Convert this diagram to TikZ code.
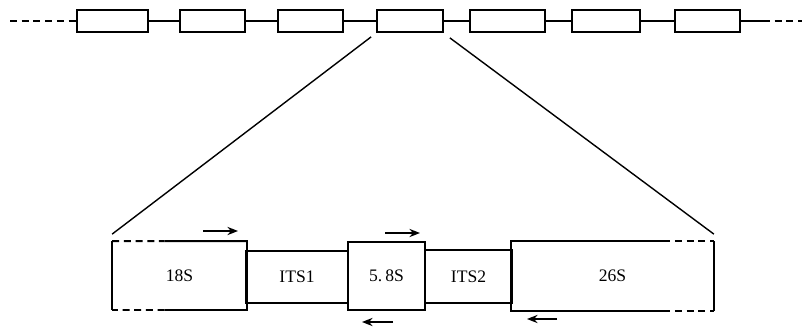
\documentclass[tikz,border=0pt]{standalone}
\usepackage{fontspec}
\setmainfont{Liberation Serif}
\usetikzlibrary{calc, arrows.meta}

\begin{document}
\begin{tikzpicture}[x=0.03cm, y=-0.03cm, line width=1.5pt,
    rep/.style={draw, minimum height=0.66cm, inner sep=0pt},
    seg/.style={inner sep=0pt, font=\fontsize{15}{17}\selectfont},
    dashseg/.style={dash pattern=on 6pt off 4pt},
    primer/.style={-{Stealth[length=9pt, width=7pt]}, line width=1.5pt},
  ]
    \useasboundingbox (0,0) rectangle (802,331);

    % tandem repeats
    \foreach \i/\a/\b in {1/77/148, 2/180/245, 3/278/343, 4/377/443, 5/470/545, 6/572/640, 7/675/740}
      \node[rep, minimum width={(\b-\a)*0.03cm}] (r\i) at ({(\a+\b)/2}, 21) {};
    \foreach \i [evaluate=\i as \j using int(\i+1)] in {1,...,6}
      \draw (r\i.east) -- (r\j.west);
    \coordinate (lend) at (10, 21);
    \coordinate (rmid) at (763, 21);
    \coordinate (rend) at (802, 21);
    \draw[dashseg] (lend) -- (r1.west);
    \draw (r7.east) -- (rmid);
    \draw[dashseg] (rmid) -- (rend);

    % one repeat unit
    \node[seg, minimum width={133*0.03cm}, minimum height={67*0.03cm}] (s18) at (179.5, 275.5) {18S};
    \node[seg, draw, minimum width={102*0.03cm}, minimum height={52*0.03cm}] (its1) at (297, 277) {ITS1};
    \node[seg, draw, minimum width={77*0.03cm}, minimum height={68*0.03cm}] (s58) at (386.5, 276) {5.\,8S};
    \node[seg, draw, minimum width={87*0.03cm}, minimum height={53*0.03cm}] (its2) at (468.5, 276.5) {ITS2};
    \node[seg, minimum width={201*0.03cm}, minimum height={68*0.03cm}] (s26) at (612.5, 276) {26S};

    \coordinate (a1) at ($(s18.north west)!0.39!(s18.north east)$);
    \coordinate (a2) at ($(s18.south west)!0.39!(s18.south east)$);
    \draw[dashseg] (s18.north west) -- (a1);
    \draw (a1) -- (s18.north east) -- (s18.south east) -- (a2);
    \draw[dashseg] (a2) -- (s18.south west);
    \draw (s18.north west) -- (s18.south west);

    \coordinate (b1) at ($(s26.north west)!0.75!(s26.north east)$);
    \coordinate (b2) at ($(s26.south west)!0.75!(s26.south east)$);
    \draw (b1) -- (s26.north west) -- (s26.south west) -- (b2);
    \draw[dashseg] (b1) -- (s26.north east);
    \draw[dashseg] (b2) -- (s26.south east);
    \draw (s26.north east) -- (s26.south east);

    % zoom lines
    \draw[line width=1.2pt] ($(r4.south west)+(-5,4)$) -- ($(s18.north west)+(0,-7)$);
    \draw[line width=1.2pt] ($(r4.south east)+(6,5)$) -- ($(s26.north east)+(0,-7)$);

    % primers
    \coordinate (p1) at (203, 231);
    \coordinate (p2) at (238, 231);
    \coordinate (p3) at (385, 233);
    \coordinate (p4) at (420, 233);
    \coordinate (p5) at (393, 322);
    \coordinate (p6) at (362, 322);
    \coordinate (p7) at (557, 319);
    \coordinate (p8) at (527, 319);
    \draw[primer] (p1) -- (p2);
    \draw[primer] (p3) -- (p4);
    \draw[primer] (p5) -- (p6);
    \draw[primer] (p7) -- (p8);
  \end{tikzpicture}
\end{document}
